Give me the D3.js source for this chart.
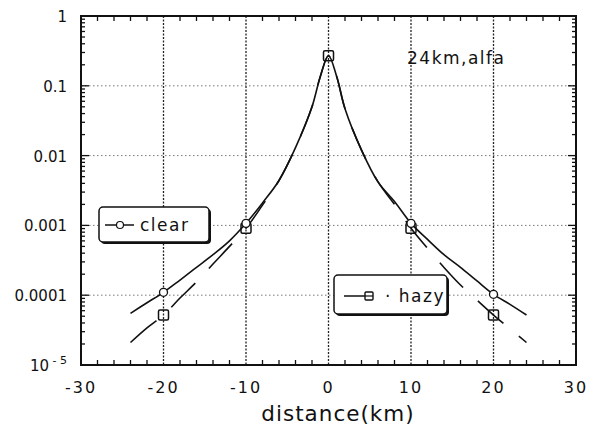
<!DOCTYPE html>
<html>
<head>
<meta charset="utf-8">
<script src="https://cdn.jsdelivr.net/npm/d3@7"></script>
<style>
  body { margin: 0; background: #fff; }
  svg { display: block; }
  text { font-family: "DejaVu Sans", sans-serif; fill: #111; }
</style>
</head>
<body>
<svg id="chart" width="600" height="426"></svg>
<script>
// distance (km) and attenuation
const distances = [-24, -22, -20, -18, -16, -14, -12, -10, -8, -6, -4, -2, -1, 0, 1, 2, 4, 6, 8, 10, 12, 14, 16, 18, 20, 22, 24]
const clearValues = [5.5e-5, 7.8e-5, 1.1e-4, 1.65e-4, 2.5e-4, 3.8e-4, 6.0e-4, 1.07e-3, 2.1e-3, 4.4e-3, 0.013, 0.05, 0.135, 0.27,
    0.135, 0.047, 0.012, 4.2e-3, 2.2e-3, 1.07e-3, 6.3e-4, 3.8e-4, 2.5e-4, 1.6e-4, 1.03e-4, 7.4e-5, 5.2e-5]
const hazyValues = [2.1e-5, 3.4e-5, 5.2e-5, 9.1e-5, 1.55e-4, 2.8e-4, 5.0e-4, 9.1e-4, 1.95e-3, 4.4e-3, 0.013, 0.05, 0.135, 0.27,
    0.135, 0.047, 0.012, 4.2e-3, 2.0e-3, 9.1e-4, 4.7e-4, 2.5e-4, 1.4e-4, 8.5e-5, 5.2e-5, 3.3e-5, 2.1e-5]
const markerDistances = [-20, -10, 0, 10, 20]
const xTicks = [-30, -20, -10, 0, 10, 20, 30]
const xGrid = [-20, -10, 0, 10, 20]
const yTicks = [1, 0.1, 0.01, 0.001, 0.0001, 1e-5]
const yTickLabels = ['1', '0.1', '0.01', '0.001', '0.0001', '10^-5']
const yGrid = [0.1, 0.01, 0.001, 0.0001]

const plot = { left: 81, right: 576, top: 16, bottom: 365 }
const svg = d3.select('#chart')

const x = d3.scaleLinear().domain([-30, 30]).range([plot.left, plot.right])
const y = d3.scaleLog().domain([1e-5, 1]).range([plot.bottom, plot.top])

// grid
svg.append('g')
    .selectAll('line')
    .data(xGrid)
    .enter()
        .append('line')
        .attr('x1', d => x(d)).attr('x2', d => x(d))
        .attr('y1', plot.top).attr('y2', plot.bottom)
        .style('stroke', '#222')
        .style('stroke-width', 1.3)
        .style('stroke-dasharray', '2,1.5')

svg.append('g')
    .selectAll('line')
    .data(yGrid)
    .enter()
        .append('line')
        .attr('x1', plot.left).attr('x2', plot.right)
        .attr('y1', d => y(d)).attr('y2', d => y(d))
        .style('stroke', '#777')
        .style('stroke-width', 1)
        .style('stroke-dasharray', '1.5,2.5')

// minor ticks
const minorX = d3.range(-28, 30, 2).filter(d => d % 10 !== 0)
const minorY = []
d3.range(-5, 0).forEach(e => {
    for (let k = 2; k <= 9; k++) minorY.push(k * Math.pow(10, e))
})

const ticks = svg.append('g').style('stroke', '#111').style('stroke-width', 1.3)
minorX.forEach(d => {
    ticks.append('line').attr('x1', x(d)).attr('x2', x(d)).attr('y1', plot.bottom).attr('y2', plot.bottom - 5)
    ticks.append('line').attr('x1', x(d)).attr('x2', x(d)).attr('y1', plot.top).attr('y2', plot.top + 5)
})
minorY.forEach(d => {
    ticks.append('line').attr('y1', y(d)).attr('y2', y(d)).attr('x1', plot.left).attr('x2', plot.left + 4)
    ticks.append('line').attr('y1', y(d)).attr('y2', y(d)).attr('x1', plot.right).attr('x2', plot.right - 4)
})
yTicks.forEach(d => {
    ticks.append('line').attr('y1', y(d)).attr('y2', y(d)).attr('x1', plot.left).attr('x2', plot.left + 8)
    ticks.append('line').attr('y1', y(d)).attr('y2', y(d)).attr('x1', plot.right).attr('x2', plot.right - 8)
})

// frame
svg.append('rect')
    .attr('x', plot.left).attr('y', plot.top)
    .attr('width', plot.right - plot.left).attr('height', plot.bottom - plot.top)
    .style('fill', 'none')
    .style('stroke', '#111')
    .style('stroke-width', 2)

// tick labels
svg.append('g')
    .selectAll('text')
    .data(xTicks)
    .enter()
        .append('text')
        .attr('x', d => x(d))
        .attr('y', 393)
        .attr('text-anchor', 'middle')
        .style('font-size', '16px')
        .style('letter-spacing', '2px')
        .text(d => d < 0 ? '-' + Math.abs(d) : d)

const yLab = svg.append('g')
yTicks.forEach((d, i) => {
    const label = yTickLabels[i]
    const t = yLab.append('text')
        .attr('x', 67)
        .attr('y', y(d) + 6)
        .attr('text-anchor', 'end')
        .style('font-size', '15px')
    if (label.indexOf('^') !== -1) {
        const parts = label.split('^')
        t.append('tspan').text(parts[0])
        t.append('tspan').attr('dy', -7).style('font-size', '11px').text(' ' + parts[1].replace('-', '- '))
    } else {
        t.text(label)
    }
})

// axis title
svg.append('text')
    .attr('x', 338)
    .attr('y', 421)
    .attr('text-anchor', 'middle')
    .style('font-size', '21.5px')
    .style('letter-spacing', '1px')
    .text('distance(km)')

svg.append('text')
    .attr('x', 407)
    .attr('y', 64)
    .style('font-size', '17px')
    .style('letter-spacing', '1.5px')
    .text('24km,alfa')

// lines
const line = d3.line()
    .x(d => x(d[0]))
    .y(d => y(d[1]))
    .curve(d3.curveCatmullRom.alpha(0.5))

const clearData = distances.map((d, i) => [d, clearValues[i]])
const hazyData = distances.map((d, i) => [d, hazyValues[i]])

svg.append('path')
    .attr('d', line(hazyData))
    .style('fill', 'none')
    .style('stroke', '#111')
    .style('stroke-width', 1.6)
    .style('stroke-dasharray', '34,20')

svg.append('path')
    .attr('d', line(clearData))
    .style('fill', 'none')
    .style('stroke', '#111')
    .style('stroke-width', 1.6)

// markers
const valueAt = (arr, d) => arr[distances.indexOf(d)]

svg.append('g')
    .selectAll('rect')
    .data(markerDistances)
    .enter()
        .append('rect')
        .attr('x', d => x(d) - 5)
        .attr('y', d => y(valueAt(hazyValues, d)) - 5)
        .attr('width', 10).attr('height', 10)
        .attr('rx', 1.5)
        .style('fill', 'none')
        .style('stroke', '#111')
        .style('stroke-width', 1.5)

svg.append('g')
    .selectAll('circle')
    .data(markerDistances.filter(d => d !== 0))
    .enter()
        .append('circle')
        .attr('cx', d => x(d))
        .attr('cy', d => y(valueAt(clearValues, d)))
        .attr('r', 4)
        .style('fill', '#fff')
        .style('stroke', '#111')
        .style('stroke-width', 1.3)

// legends
function legendBox(x0, y0, w, h) {
    svg.append('rect')
        .attr('x', x0 + 2).attr('y', y0 + 2)
        .attr('width', w).attr('height', h)
        .attr('rx', 4)
        .style('fill', '#111')
    svg.append('rect')
        .attr('x', x0).attr('y', y0)
        .attr('width', w).attr('height', h)
        .attr('rx', 4)
        .style('fill', '#fff')
        .style('stroke', '#111')
        .style('stroke-width', 1.5)
}

legendBox(99, 207, 110, 35)
svg.append('line').attr('x1', 105).attr('x2', 134).attr('y1', 225).attr('y2', 225)
    .style('stroke', '#111').style('stroke-width', 1.5)
svg.append('circle').attr('cx', 120).attr('cy', 225).attr('r', 3.5)
    .style('fill', '#fff').style('stroke', '#111').style('stroke-width', 1.2)
svg.append('text').attr('x', 140).attr('y', 231)
    .style('font-size', '17px').style('letter-spacing', '1.5px').text('clear')

legendBox(334, 275, 113, 39)
svg.append('line').attr('x1', 344).attr('x2', 366).attr('y1', 296).attr('y2', 296)
    .style('stroke', '#111').style('stroke-width', 1.5)
svg.append('rect').attr('x', 365).attr('y', 292).attr('width', 8).attr('height', 8).attr('rx', 1)
    .style('fill', '#fff').style('stroke', '#111').style('stroke-width', 1.4)
svg.append('line').attr('x1', 365).attr('x2', 373).attr('y1', 296).attr('y2', 296)
    .style('stroke', '#111').style('stroke-width', 1.2)
svg.append('text').attr('x', 385).attr('y', 302)
    .style('font-size', '17px').style('letter-spacing', '1.5px').text('· hazy')
</script>
</body>
</html>
